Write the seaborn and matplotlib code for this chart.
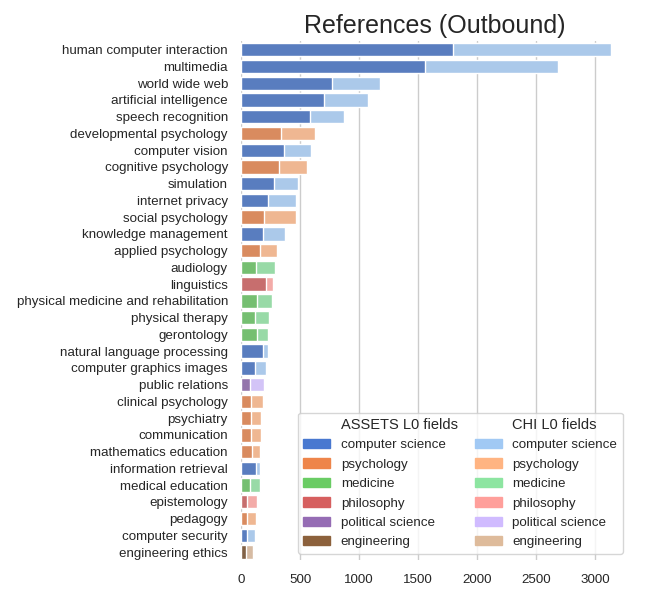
import matplotlib
matplotlib.use("Agg")
import matplotlib.pyplot as plt
from matplotlib.patches import Patch
import seaborn as sns

# Outbound references per L0 field, ASSETS vs CHI
topics = [
    "human computer interaction", "multimedia", "world wide web",
    "artificial intelligence", "speech recognition", "developmental psychology",
    "computer vision", "cognitive psychology", "simulation", "internet privacy",
    "social psychology", "knowledge management", "applied psychology",
    "audiology", "linguistics", "physical medicine and rehabilitation",
    "physical therapy", "gerontology", "natural language processing",
    "computer graphics images", "public relations", "clinical psychology",
    "psychiatry", "communication", "mathematics education",
    "information retrieval", "medical education", "epistemology",
    "pedagogy", "computer security", "engineering ethics",
]
fields = [
    "computer science", "computer science", "computer science",
    "computer science", "computer science", "psychology",
    "computer science", "psychology", "computer science", "computer science",
    "psychology", "computer science", "psychology",
    "medicine", "philosophy", "medicine",
    "medicine", "medicine", "computer science",
    "computer science", "political science", "psychology",
    "psychology", "psychology", "psychology",
    "computer science", "medicine", "philosophy",
    "psychology", "computer science", "engineering",
]
assets_refs = [1795, 1558, 770, 703, 584, 339, 364, 322, 279, 229, 195, 186,
               161, 127, 212, 135, 119, 135, 186, 119, 76, 85, 85, 85, 93,
               127, 76, 51, 51, 51, 42]
chi_refs = [1338, 1126, 407, 372, 288, 287, 229, 237, 204, 237, 271, 186,
            144, 161, 59, 127, 118, 94, 43, 93, 119, 101, 84, 84, 68,
            34, 85, 84, 76, 68, 60]

field_order = ["computer science", "psychology", "medicine",
               "philosophy", "political science", "engineering"]


def create_plot():
    sns.set_theme(style="whitegrid")
    plt.rcParams["font.family"] = ["Liberation Sans", "DejaVu Sans"]

    muted = dict(zip(field_order, sns.color_palette("muted", 6)))
    pastel = dict(zip(field_order, sns.color_palette("pastel", 6)))

    totals = [a + c for a, c in zip(assets_refs, chi_refs)]

    fig = plt.figure(figsize=(6.5, 6), dpi=100)
    ax = fig.add_axes([0.371, 0.066, 0.597, 0.865])

    # CHI stacked after ASSETS: draw full totals first, ASSETS on top
    sns.barplot(x=totals, y=topics, hue=topics, legend=False,
                palette=[pastel[f] for f in fields], edgecolor="white", ax=ax)
    sns.barplot(x=assets_refs, y=topics, hue=topics, legend=False,
                palette=[muted[f] for f in fields], edgecolor="white", ax=ax)

    ax.set_xlabel("")
    ax.set_ylabel("")
    ax.set_title("References (Outbound)", fontsize=18)
    ax.tick_params(axis="both", labelsize=9.6)
    sns.despine(left=True, bottom=True)

    handles = [Patch(color="none", label="ASSETS L0 fields")]
    handles += [Patch(color=muted[f], label=f) for f in field_order]
    handles += [Patch(color="none", label="CHI L0 fields")]
    handles += [Patch(color=pastel[f], label=f) for f in field_order]
    leg = ax.legend(handles=handles, ncol=2, loc="lower right", fontsize=9.6,
                    labelspacing=0.53, columnspacing=1.3)
    texts = leg.get_texts()
    texts[0].set_fontsize(10.5)
    texts[7].set_fontsize(10.5)

    fig.savefig("out.png")


if __name__ == "__main__":
    create_plot()
